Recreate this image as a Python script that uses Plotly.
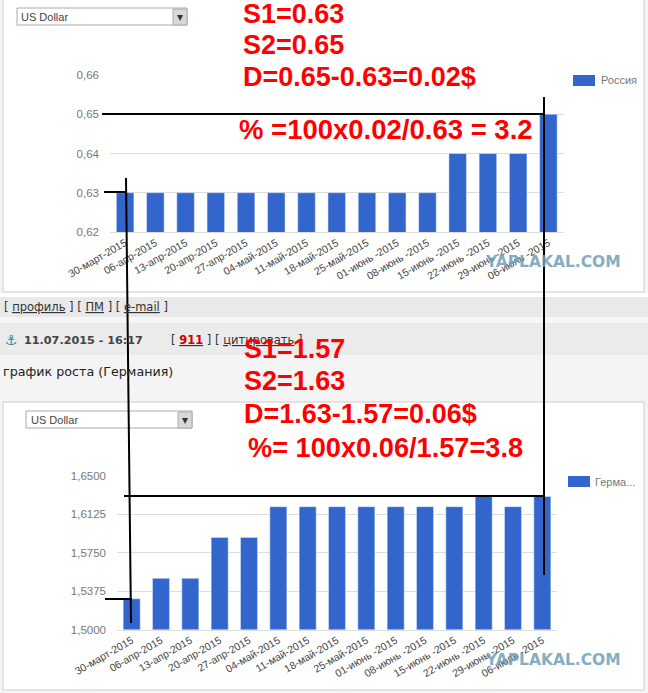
import plotly.graph_objects as go

W = 648
H = 693

dates_ru = ["30-март-2015", "06-апр-2015", "13-апр-2015", "20-апр-2015", "27-апр-2015",
            "04-май-2015", "11-май-2015", "18-май-2015", "25-май-2015", "01-июнь -2015",
            "08-июнь -2015", "15-июнь -2015", "22-июнь -2015", "29-июнь -2015", "06-июль -2015"]
russia = [0.63, 0.63, 0.63, 0.63, 0.63, 0.63, 0.63, 0.63, 0.63, 0.63, 0.63, 0.64, 0.64, 0.64, 0.65]
germany = [1.53, 1.55, 1.55, 1.59, 1.59, 1.62, 1.62, 1.62, 1.62, 1.62, 1.62, 1.62, 1.63, 1.62, 1.63]
ru_ticks = [0.62, 0.63, 0.64, 0.65, 0.66]
ru_labels = ["0,62", "0,63", "0,64", "0,65", "0,66"]
de_ticks = [1.5, 1.5375, 1.575, 1.6125, 1.65]
de_labels = ["1,5000", "1,5375", "1,5750", "1,6125", "1,6500"]

BLUE = "#3366cc"
GRID = "#dddddd"
TICK = "#777777"
RED = "#ff0000"


# screenshot pixels to paper coords
def px(x):
    return x / W


def py(y):
    return 1 - y / H


def rect(x0, y0, x1, y1, fill, line=None, layer="below"):
    return dict(type="rect", xref="paper", yref="paper", x0=px(x0), x1=px(x1), y0=py(y0), y1=py(y1),
                fillcolor=fill, line=dict(color=line or fill, width=1 if line else 0), layer=layer)


def black_line(x0, y0, x1, y1):
    return dict(type="line", xref="paper", yref="paper", x0=px(x0), x1=px(x1), y0=py(y0), y1=py(y1),
                line=dict(color="black", width=2), layer="above")


def label(x, y, text, size, color="#333333", family="DejaVu Sans", anchor="left", opacity=1):
    return dict(x=px(x), y=py(y), xref="paper", yref="paper", text=text, showarrow=False, xanchor=anchor,
                yanchor="middle", opacity=opacity, font=dict(family=family, size=size, color=color),
                borderpad=0, xshift=0)


fig = go.Figure()
fig.add_trace(go.Bar(x=dates_ru, y=russia, name="Россия", marker_color=BLUE, xaxis="x", yaxis="y"))
fig.add_trace(go.Bar(x=dates_ru, y=germany, name="Герма...", marker_color=BLUE, xaxis="x2", yaxis="y2"))

shapes = [
    # page strips and the two white chart panels
    rect(0, 0, W, H, "#f4f4f4"),
    rect(3, -2, 644, 292, "white", "#cccccc"),
    rect(0, 293, W, 297, "white"),
    rect(0, 297, W, 317, "#e9e9e9"),
    rect(0, 317, W, 323, "#f6f6f6"),
    rect(0, 323, W, 355, "#ebebeb"),
    rect(3, 402, 644, 690, "white", "#cccccc"),
    # dropdowns
    rect(17, 8, 187, 25, "white", "#aaaaaa"),
    rect(173, 9, 187, 25, "#d8d8d8", "#aaaaaa"),
    rect(26, 411, 192, 428, "white", "#aaaaaa"),
    rect(178, 412, 192, 428, "#d8d8d8", "#aaaaaa"),
    # legend swatches
    rect(573, 75, 595, 86, BLUE),
    rect(568, 476, 590, 487, BLUE),
    # hand drawn lines
    black_line(102, 114, 544, 114),
    black_line(104, 192, 127, 192),
    black_line(126, 178, 131, 623),
    black_line(544, 97, 544, 575),
    black_line(124, 496, 543, 496),
    black_line(105, 599, 132, 599),
]

annotations = [
    label(20, 17, "US Dollar", 11, "#444444", "Liberation Sans"),
    label(30, 420, "US Dollar", 11, "#444444", "Liberation Sans"),
    label(180, 17, "▾", 12, "#333333", anchor="center"),
    label(185, 420, "▾", 12, "#333333", anchor="center"),
    label(600, 80, "Россия", 11, "#777777", "Liberation Sans"),
    label(594, 482, "Герма...", 11, "#777777", "Liberation Sans"),
    label(3, 307, "[ <u>профиль</u> ] [ <u>ПМ</u> ] [ <u>e-mail</u> ]", 11.5),
    label(4, 340, "⚓", 14, "#2a8aa8"),
    label(23, 340, "<b>11.07.2015 - 16:17</b>", 11.2, "#444444"),
    label(170, 340, "[ <u><b><span style='color:#cc0000'>911</span></b></u> ] [ <u>цитировать</u> ]", 11.5),
    label(2, 371, "график роста (Германия)", 12.7, "#222222"),
    label(484, 262, "<b>YAPLAKAL.COM</b>", 15.5, "#6f9fb8", opacity=0.85),
    label(484, 660, "<b>YAPLAKAL.COM</b>", 15.5, "#6f9fb8", opacity=0.85),
]

red_text = [
    (242, 14, "S1=0.63", 27),
    (242, 45, "S2=0.65", 27),
    (242, 77, "D=0.65-0.63=0.02$", 27),
    (238, 130, "% =100x0.02/0.63 = 3.2", 27.5),
    (243, 349, "S1=1.57", 27),
    (243, 381, "S2=1.63", 27),
    (243, 414, "D=1.63-1.57=0.06$", 27),
    (247, 447, "%= 100x0.06/1.57=3.8", 27.2),
]
for x, y, t, size in red_text:
    annotations.append(label(x, y, f"<b>{t}</b>", size, RED, "Liberation Sans"))

axis_style = dict(showgrid=True, gridcolor=GRID, gridwidth=1, zeroline=False, showline=False, ticks="",
                  tickfont=dict(family="Liberation Sans", size=11.5, color=TICK), ticklabelstandoff=10,
                  automargin=False)
x_style = dict(type="category", showgrid=False, showline=True, linecolor=GRID, ticks="", tickangle=-30,
               tickfont=dict(family="Liberation Sans", size=10.5, color="#444444"), automargin=False)

fig.update_layout(
    width=W,
    height=H,
    margin=dict(l=0, r=0, t=0, b=0, pad=0, autoexpand=False),
    showlegend=False,
    paper_bgcolor="#f4f4f4",
    plot_bgcolor="rgba(0,0,0,0)",
    bargap=0.42,
    xaxis=dict(domain=[px(110), px(563.5)], anchor="y", **x_style),
    yaxis=dict(domain=[py(232), py(75)], range=[0.62, 0.66], tickvals=ru_ticks, ticktext=ru_labels, anchor="x", **axis_style),
    xaxis2=dict(domain=[px(117), px(557)], anchor="y2", **x_style),
    yaxis2=dict(domain=[py(629.5), py(476)], range=[1.5, 1.65], tickvals=de_ticks, ticktext=de_labels, anchor="x2", **axis_style),
    shapes=shapes,
    annotations=annotations,
)

fig.write_html("out.html", config=dict(displayModeBar=False),
               post_script="document.body.style.margin='0';document.body.style.overflow='hidden';")
